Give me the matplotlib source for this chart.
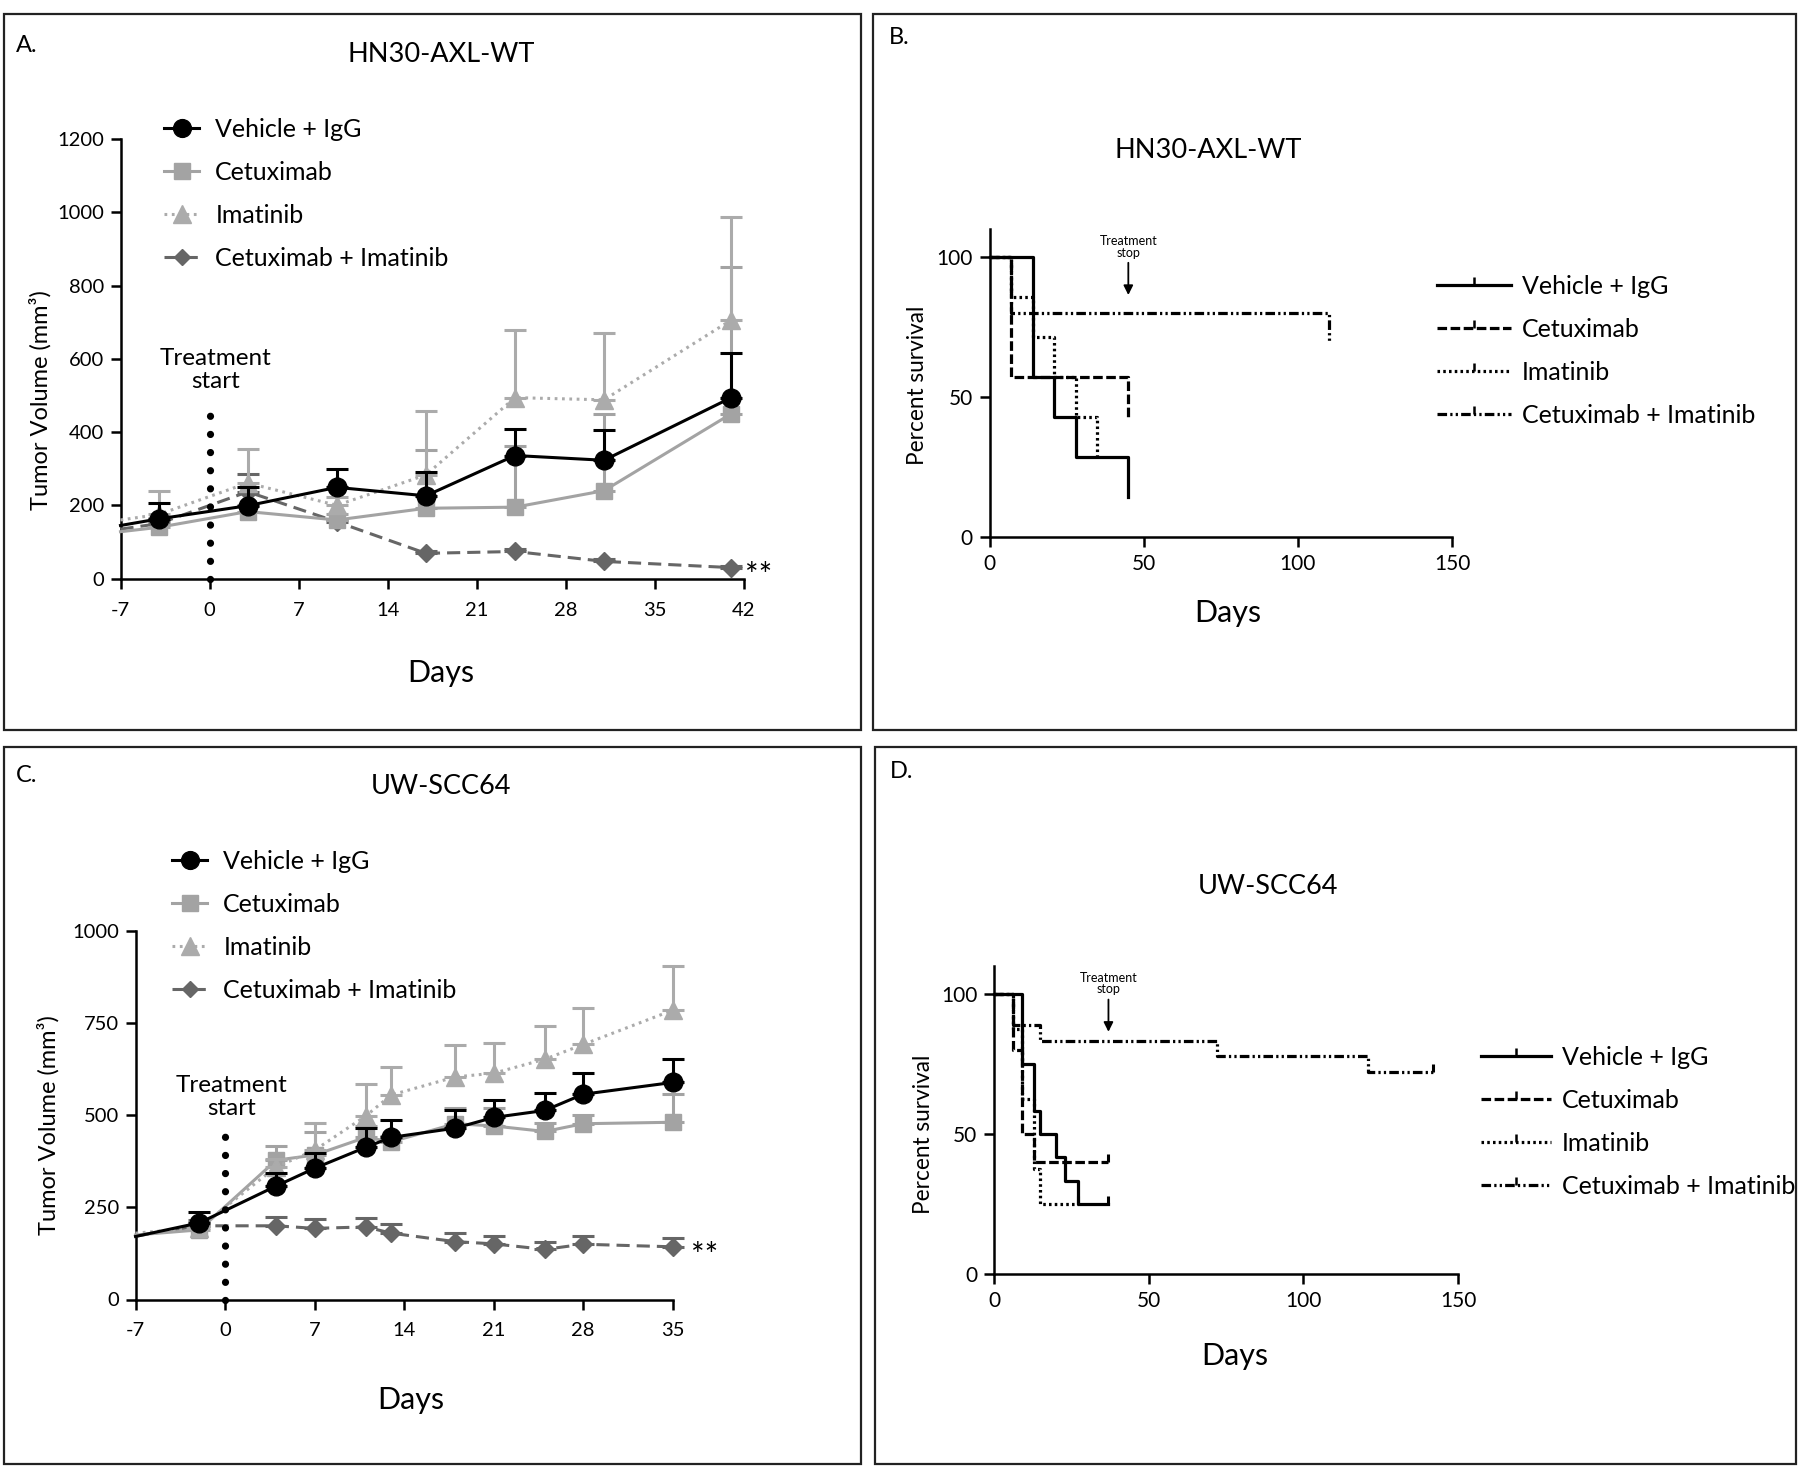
import matplotlib
matplotlib.use('Agg')
import matplotlib.pyplot as plt
import numpy as np
from matplotlib.lines import Line2D
from matplotlib.patches import Rectangle

W, H = 1800, 1467
plt.rcParams['font.family'] = ['Lato', 'DejaVu Sans']
plt.rcParams['axes.linewidth'] = 1.8
plt.rcParams['axes.unicode_minus'] = False

labels = ['Vehicle + IgG', 'Cetuximab', 'Imatinib', 'Cetuximab + Imatinib']

# ---- A: HN30-AXL-WT tumour growth (first entry = value where line meets the y axis)
a_days = [-7, -4, 3, 10, 17, 24, 31, 41]
a_vehicle = [145, 163, 199, 249, 226, 336, 323, 494]
a_vehicle_hi = [206, 251, 299, 292, 408, 406, 616]
a_cetux = [128, 140, 183, 160, 192, 195, 240, 450]
a_cetux_hi = [165, 200, 175, 351, 363, 449, 851]
a_imat = [160, 175, 261, 200, 283, 494, 488, 706]
a_imat_hi = [240, 354, 224, 457, 678, 671, 986]
a_combo = [135, 150, 237, 155, 69, 74, 47, 30]
a_combo_hi = [158, 285, 162, 76, 82, 53, 35]

# ---- C: UW-SCC64 tumour growth
c_days = [-7, -2, 4, 7, 11, 13, 18, 21, 25, 28, 35]
c_vehicle = [171, 208, 308, 356, 413, 440, 465, 494, 513, 557, 589]
c_vehicle_hi = [238, 343, 398, 465, 487, 513, 542, 561, 614, 652]
c_cetux = [175, 189, 378, 392, 440, 428, 477, 471, 456, 477, 481]
c_cetux_hi = [200, 417, 455, 470, 445, 519, 520, 480, 500, 559]
c_imat = [180, 195, 360, 405, 498, 555, 604, 614, 652, 692, 785]
c_imat_hi = [210, 380, 480, 585, 632, 690, 695, 741, 791, 905]
c_combo = [172, 200, 200, 193, 197, 180, 157, 151, 136, 150, 143]
c_combo_hi = [215, 224, 218, 221, 205, 180, 171, 155, 171, 167]

# ---- B: HN30-AXL-WT survival (step times / percent)
b_vehicle_t = [0, 14, 21, 28, 45]
b_vehicle_s = [100, 57.1, 42.9, 28.6, 14.3]
b_cetux_t = [0, 7, 45]
b_cetux_s = [100, 57.1, 42.9]
b_imat_t = [0, 7, 14, 21, 28, 35]
b_imat_s = [100, 85.7, 71.4, 57.1, 42.9, 28.6]
b_combo_t = [0, 7, 110]
b_combo_s = [100, 80, 70]

# ---- D: UW-SCC64 survival
d_vehicle_t = [0, 9, 13, 15, 20, 23, 27, 37]
d_vehicle_s = [100, 75, 58.3, 50, 41.7, 33.3, 25, 25]
d_cetux_t = [0, 6, 9, 13, 37]
d_cetux_s = [100, 80, 50, 40, 40]
d_imat_t = [0, 6, 9, 13, 15, 27]
d_imat_s = [100, 87.5, 62.5, 37.5, 25, 25]
d_combo_t = [0, 6, 15, 72, 121, 142]
d_combo_s = [100, 88.9, 83.3, 77.8, 72.2, 72.2]

treat_start_top = {'A': 489, 'C': 469}
treat_stop_day = {'B': 45, 'D': 37}

growth_style = {
    'Vehicle + IgG': dict(color='black', ls='-', marker='o', ms=13.5, lw=2.2, z=6),
    'Cetuximab': dict(color='#a3a3a3', ls='-', marker='s', ms=12, lw=2.2, z=4),
    'Imatinib': dict(color='#ababab', ls=(0, (0.9, 1.5)), marker='^', ms=13, lw=2.2, z=5),
    'Cetuximab + Imatinib': dict(color='#666666', ls=(0, (4.3, 2.3)), marker='D', ms=9, lw=2.2, z=3),
}
surv_style = {
    'Vehicle + IgG': dict(ls='-'),
    'Cetuximab': dict(ls=(0, (3, 1.1))),
    'Imatinib': dict(ls=(0, (0.8, 1.0))),
    'Cetuximab + Imatinib': dict(ls=(0, (3, 1, 0.7, 1, 0.7, 1))),
}

LEG_FS = 18


def fx(x):
    return x / W


def fy(y):
    return 1 - y / H


def px_box(x0, x1, y_top, y_bot):
    return [fx(x0), fy(y_bot), (x1 - x0) / W, (y_bot - y_top) / H]


fig = plt.figure(figsize=(18, 14.67), dpi=100)

# panel frames
for x0, x1, y0, y1 in [(3.5, 861, 14, 730.5), (872.5, 1795.5, 14, 730.5),
                       (3.5, 861, 747, 1463.5), (874.5, 1795.5, 747, 1463.5)]:
    fig.add_artist(Rectangle((fx(x0), fy(y1)), (x1 - x0) / W, (y1 - y0) / H,
                             transform=fig.transFigure, fill=False, lw=1.6, ec='#222222'))


def style_axes(ax, fs=14.5, xpad=5):
    for s in ['top', 'right']:
        ax.spines[s].set_visible(False)
    ax.tick_params(direction='out', length=7, width=1.8, labelsize=fs, pad=5)
    ax.tick_params(axis='x', pad=xpad)


def growth(ax, days, series, key, leg_xy, ylim, yticks, xticks, star_off):
    n = len(days)
    for name in ['Cetuximab + Imatinib', 'Cetuximab', 'Imatinib', 'Vehicle + IgG']:
        vals, hi = series[name]
        st = growth_style[name]
        v = np.array(vals[1:], float)
        up = np.array(hi, float) - v
        ax.errorbar(days[1:], v, yerr=[np.zeros_like(up), up], fmt='none',
                    ecolor=st['color'], elinewidth=2.2, capsize=8, capthick=2.2,
                    clip_on=False, zorder=st['z'])
        ax.plot(days, vals, color=st['color'], ls=st['ls'], lw=st['lw'],
                marker=st['marker'], ms=st['ms'], mec=st['color'],
                markevery=list(range(1, n)), clip_on=False, zorder=st['z'] + 0.5)
    ax.set_xlim(days[0], xticks[-1])
    ax.set_ylim(*ylim)
    ax.set_xticks(xticks)
    ax.set_yticks(yticks)
    style_axes(ax, 14.5, 9.5)
    top = treat_start_top[key]
    ax.plot([0, 0], [0, top], color='black', lw=5.2, ls=(0, (0.01, 2.5)),
            dash_capstyle='round', clip_on=False, zorder=7)
    ax.text(0.5, top + 20, 'Treatment\nstart', ha='center', va='bottom',
            fontsize=17.5, linespacing=1.15)
    ax.annotate('**', xy=(days[-1], series['Cetuximab + Imatinib'][0][-1]),
                xytext=(star_off, -7), textcoords='offset points',
                va='center', ha='left', fontsize=23)
    handles = []
    for name in labels:
        st = growth_style[name]
        handles.append(Line2D([], [], color=st['color'], ls=st['ls'], lw=st['lw'],
                              marker=st['marker'], ms=st['ms'] * 0.95, mec=st['color']))
    ax.legend(handles, labels, loc='upper left', bbox_to_anchor=(fx(leg_xy[0]), fy(leg_xy[1])),
              bbox_transform=fig.transFigure, frameon=False, fontsize=LEG_FS,
              handlelength=1.4, handletextpad=0.65, labelspacing=0.8,
              borderpad=0, borderaxespad=0, numpoints=1)


def survival(ax, curves, key, leg_xy, ends_ticked):
    for name in labels[::-1]:
        t, s = curves[name]
        kw = {}
        if ends_ticked:
            kw = dict(marker=2, ms=6, mew=2.2, markevery=[len(t) - 1])
        ax.step(t, s, where='post', color='black', lw=2.3, ls=surv_style[name]['ls'],
                clip_on=False, **kw)
    ax.set_xlim(0, 150)
    ax.set_ylim(0, 110)
    ax.set_xticks([0, 50, 100, 150])
    ax.set_yticks([0, 50, 100])
    style_axes(ax, 15, 5)
    d = treat_stop_day[key]
    ax.annotate('Treatment\nstop', xy=(d, 86.5), xytext=(d, 99.5), ha='center', va='bottom',
                fontsize=9, linespacing=0.95,
                arrowprops=dict(arrowstyle='-|>', color='black', lw=1.3,
                                shrinkA=1, shrinkB=0, mutation_scale=14))
    handles = [Line2D([], [], color='black', lw=2.3, ls=surv_style[n]['ls'],
                      marker=2, ms=6, mew=1.8) for n in labels]
    ax.legend(handles, labels, loc='upper left', bbox_to_anchor=(fx(leg_xy[0]), fy(leg_xy[1])),
              bbox_transform=fig.transFigure, frameon=False, fontsize=LEG_FS,
              handlelength=leg_xy[2], handletextpad=0.45, labelspacing=0.8,
              borderpad=0, borderaxespad=0, numpoints=1)


# ---- panel A
axA = fig.add_axes(px_box(120.5, 744, 139, 578.6))
growth(axA, a_days,
       {'Vehicle + IgG': (a_vehicle, a_vehicle_hi), 'Cetuximab': (a_cetux, a_cetux_hi),
        'Imatinib': (a_imat, a_imat_hi), 'Cetuximab + Imatinib': (a_combo, a_combo_hi)},
       'A', (164, 118), (0, 1200), range(0, 1201, 200), [-7, 0, 7, 14, 21, 28, 35, 42], 10)

# ---- panel C
axC = fig.add_axes(px_box(135.5, 672.7, 931, 1299.5))
growth(axC, c_days,
       {'Vehicle + IgG': (c_vehicle, c_vehicle_hi), 'Cetuximab': (c_cetux, c_cetux_hi),
        'Imatinib': (c_imat, c_imat_hi), 'Cetuximab + Imatinib': (c_combo, c_combo_hi)},
       'C', (172, 850), (0, 1000), [0, 250, 500, 750, 1000], [-7, 0, 7, 14, 21, 28, 35], 13)

# ---- panel B
axB = fig.add_axes(px_box(989.6, 1452, 229.2, 537.3))
survival(axB, {'Vehicle + IgG': (b_vehicle_t, b_vehicle_s), 'Cetuximab': (b_cetux_t, b_cetux_s),
               'Imatinib': (b_imat_t, b_imat_s), 'Cetuximab + Imatinib': (b_combo_t, b_combo_s)},
         'B', (1437, 275, 2.95), False)

# ---- panel D
axD = fig.add_axes(px_box(994, 1458, 966, 1274))
survival(axD, {'Vehicle + IgG': (d_vehicle_t, d_vehicle_s), 'Cetuximab': (d_cetux_t, d_cetux_s),
               'Imatinib': (d_imat_t, d_imat_s), 'Cetuximab + Imatinib': (d_combo_t, d_combo_s)},
         'D', (1481, 1046, 2.8), True)

# ---- texts
title_fs = 19.5
for txt, x, y in [('A.', 27, 46), ('B.', 899, 38), ('C.', 27, 776), ('D.', 902, 771)]:
    fig.text(fx(x), fy(y), txt, fontsize=17, ha='center', va='center')
for txt, x, y in [('HN30-AXL-WT', 441, 54), ('HN30-AXL-WT', 1208, 151),
                  ('UW-SCC64', 441, 787), ('UW-SCC64', 1268, 887)]:
    fig.text(fx(x), fy(y), txt, fontsize=title_fs, ha='center', va='center')
for x, y in [(441, 673), (1228, 613), (411, 1400), (1235, 1356)]:
    fig.text(fx(x), fy(y), 'Days', fontsize=22, ha='center', va='center')
for x, y in [(40, 400), (48, 1125)]:
    fig.text(fx(x), fy(y), 'Tumor Volume (mm³)', fontsize=17, ha='center', va='center',
             rotation=90)
for x, y in [(918, 385), (924, 1134)]:
    fig.text(fx(x), fy(y), 'Percent survival', fontsize=16.3, ha='center', va='center',
             rotation=90)

fig.savefig('out.png', dpi=100)
